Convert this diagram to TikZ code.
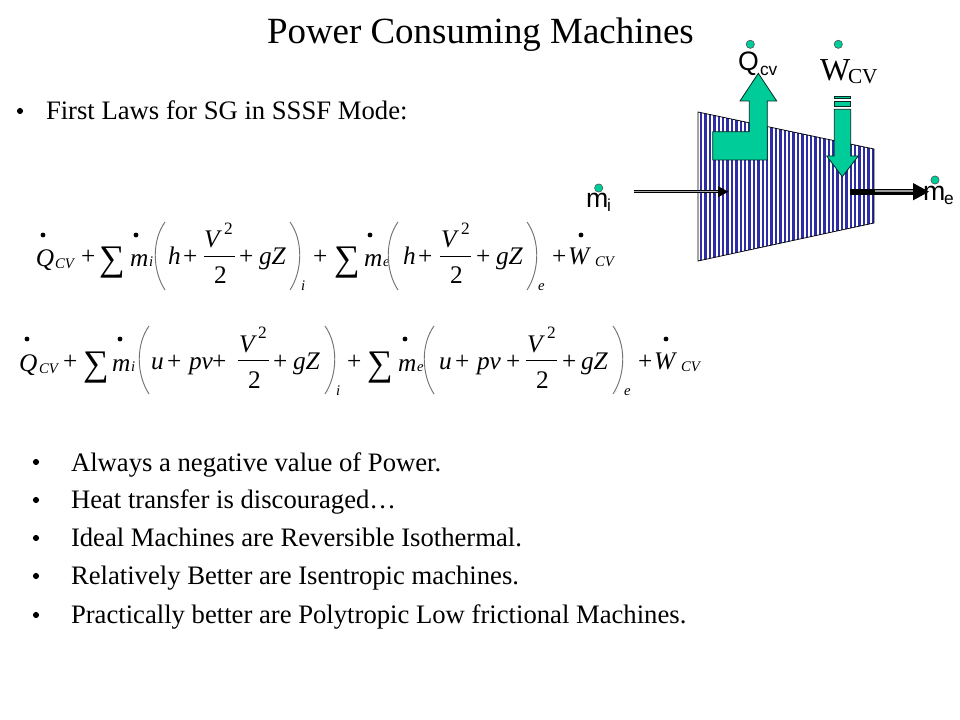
\documentclass[tikz,border=0pt]{standalone}
\usepackage{fontspec}
\setmainfont{Liberation Serif}
\newfontfamily\sansf{Liberation Sans}
\usetikzlibrary{arrows.meta}
\definecolor{teal1}{RGB}{0,204,153}
\definecolor{stripe}{RGB}{45,45,165}
\tikzset{
 txt/.style={anchor=base west,inner sep=0pt,outer sep=0pt,text=black},
 titletxt/.style={txt,font=\fontsize{27.7}{32}\selectfont},
 body/.style={txt,font=\fontsize{20}{24}\selectfont},
 mathbig/.style={txt,font=\fontsize{19}{22}\selectfont\itshape},
 mathrm/.style={txt,font=\fontsize{19}{22}\selectfont},
 mathsub/.style={txt,font=\fontsize{11}{12}\selectfont\itshape},
 sumsym/.style={txt,font=\fontsize{27}{28}\selectfont},
 blackdot/.style={circle,fill=black,inner sep=0pt,minimum size=3.6pt},
 greendot/.style={circle,fill=teal1,draw=black!70,line width=.4pt,inner sep=0pt,minimum size=6.2pt},
 paren/.style={draw=black!55,line width=.7pt},
 fracbar/.style={draw=black,line width=.7pt},
 tealshape/.style={fill=teal1,draw=black!80!teal1,line width=.6pt},
 sanslab/.style={txt,font=\fontsize{20}{22}\selectfont\sansf},
 sanssub/.style={txt,font=\fontsize{13}{15}\selectfont\sansf},
}
\newcommand{\bulletmark}[2]{\node[blackdot,minimum size=4.6pt] (#1) at #2 {};}
\begin{document}
\begin{tikzpicture}[x=0.75pt,y=-0.75pt]
\useasboundingbox (0,0) rectangle (960,720);
\fill[white] (0,0) rectangle (960,720);

\node[titletxt] (title) at (267,43.5) {Power Consuming Machines};
\bulletmark{b0}{(20,111)}
\node[body] (first) at (46,120) {First Laws for SG in SSSF Mode:};

% machine body
\begin{scope}
\clip (698,112) -- (874,149) -- (874,223) -- (698,261) -- cycle;
\foreach \x in {0,...,40} {
  \fill[stripe] ({700+\x*4.4},100) rectangle ({700+\x*4.4+2.4},270);
}
\end{scope}
\draw[black,line width=.55pt] (698,112) -- (874,149) -- (874,223) -- (698,261) -- cycle;

% heat arrow
\path[tealshape] (712.7,131.7) -- (749.3,131.7) -- (749.3,101) -- (740,101) -- (758.3,73.3) -- (776.7,101) -- (767.3,101) -- (767.3,160) -- (712.7,160) -- cycle;
% work arrow
\path[tealshape] (834.3,96) rectangle (850.7,98.3);
\path[tealshape] (834.3,101) rectangle (850.7,106.7);
\path[tealshape] (834.3,109.3) -- (850.7,109.3) -- (850.7,156) -- (858.3,156) -- (842.3,176.7) -- (826.7,156) -- (834.3,156) -- cycle;

% flow arrows
\coordinate (inA) at (634,191.7);
\coordinate (inB) at (720,191.7);
\coordinate (inT) at (728.5,191.7);
\coordinate (outA) at (850,191.7);
\coordinate (outB) at (915,191.7);
\coordinate (outC) at (875,191.7);
\coordinate (outT) at (929,191.7);
\draw[draw=black,line width=2.4pt] (inA) -- (inB);
\draw[draw=black!35,line width=.9pt] (inA) -- (inB);
\fill[black] (inT) -- ++(-10.5,-5.5) -- ++(0,11) -- cycle;
\draw[draw=black,line width=4.6pt] (outA) -- (outB);
\draw[draw=black!40,line width=1.6pt] ([yshift=.8pt]outC) -- ([yshift=.8pt]outB);
\fill[black] (outT) -- ++(-16,-8.7) -- ++(0,17.4) -- cycle;

% diagram labels
\node[sanslab] (qlab) at (738,71) {Q};
\node[sanssub] (qsub) at (760,76) {cv};
\node[txt,font=\fontsize{24}{26}\selectfont] (wlab) at (820,81) {W};
\node[txt,font=\fontsize{16}{18}\selectfont] (wsub) at (848,84) {CV};
\node[sanslab] (mil) at (586,208) {m};
\node[sanssub] (mis) at (607,212) {i};
\node[sanslab] (mel) at (923,201) {m};
\node[sanssub] (mes) at (944,205) {e};
\node[greendot] (dq) at (750.3,44.3) {};
\node[greendot] (dw) at (838.3,44.3) {};
\node[greendot] (dmi) at (598.7,188) {};
\node[greendot] (dme) at (935,180) {};

% equation 1
\node[mathbig] (a1) at (36,267) {Q};
\node[blackdot] (a1d) at (43,235) {};
\node[mathsub] (a2) at (55,269) {CV};
\node[mathrm] (a3) at (81,265) {+};
\node[sumsym] (a4) at (99,271) {∑};
\node[mathbig] (a5) at (130,267) {m};
\node[blackdot] (a5d) at (136,235) {};
\node[mathsub] (a6) at (149,267) {i};
\draw[paren] (165,222) .. controls (152,240) and (152,270) .. (165,290);
\node[mathbig] (a7) at (168,265) {h};
\node[mathrm] (a8) at (183,265) {+};
\draw[fracbar] (204,256) -- (235,256);
\node[mathbig] (a9) at (204,248) {V};
\node[txt,font=\fontsize{13}{14}\selectfont] (a10) at (224,235) {2};
\node[mathrm] (a11) at (214,284) {2};
\node[mathrm] (a12) at (239,265) {+};
\node[mathbig] (a13) at (259,265) {gZ};
\draw[paren] (290,222) .. controls (303,240) and (303,270) .. (290,290);
\node[mathsub] (a14) at (301,291) {i};
\node[mathrm] (a15) at (313,265) {+};
\node[sumsym] (a16) at (334,271) {∑};
\node[mathbig] (a17) at (364,267) {m};
\node[blackdot] (a17d) at (370,235) {};
\node[mathsub] (a18) at (383,267) {e};
\draw[paren] (398,222) .. controls (385,240) and (385,270) .. (398,290);
\node[mathbig] (a19) at (403,265) {h};
\node[mathrm] (a20) at (418,265) {+};
\draw[fracbar] (440,256) -- (471,256);
\node[mathbig] (a21) at (441,248) {V};
\node[txt,font=\fontsize{13}{14}\selectfont] (a22) at (461,235) {2};
\node[mathrm] (a23) at (450,284) {2};
\node[mathrm] (a24) at (476,265) {+};
\node[mathbig] (a25) at (496,265) {gZ};
\draw[paren] (527,222) .. controls (540,240) and (540,270) .. (527,290);
\node[mathsub] (a26) at (538,291) {e};
\node[mathrm] (a27) at (552,265) {+};
\node[mathbig] (a28) at (568,265) {W};
\node[blackdot] (a28d) at (581,235) {};
\node[mathsub] (a29) at (595,267) {CV};

% equation 2
\node[mathbig] (c1) at (19,371) {Q};
\node[blackdot] (c1d) at (27,339) {};
\node[mathsub] (c2) at (39,373) {CV};
\node[mathrm] (c3) at (63,369) {+};
\node[sumsym] (c4) at (83,375) {∑};
\node[mathbig] (c5) at (112,371) {m};
\node[blackdot] (c5d) at (120,339) {};
\node[mathsub] (c6) at (131,371) {i};
\draw[paren] (149,326) .. controls (136,344) and (136,374) .. (149,394);
\node[mathbig] (c7) at (151,369) {u};
\node[mathrm] (c8) at (167,369) {+};
\node[mathbig] (c9) at (189,369) {pv};
\node[mathrm] (c10) at (212,369) {+};
\draw[fracbar] (238,360) -- (269,360);
\node[mathbig] (c11) at (239,352) {V};
\node[txt,font=\fontsize{13}{14}\selectfont] (c12) at (258,339) {2};
\node[mathrm] (c13) at (248,388) {2};
\node[mathrm] (c14) at (273,369) {+};
\node[mathbig] (c15) at (293,369) {gZ};
\draw[paren] (325,326) .. controls (338,344) and (338,374) .. (325,394);
\node[mathsub] (c16) at (336,395) {i};
\node[mathrm] (c17) at (347,369) {+};
\node[sumsym] (c18) at (367,375) {∑};
\node[mathbig] (c19) at (398,371) {m};
\node[blackdot] (c19d) at (405,339) {};
\node[mathsub] (c20) at (417,371) {e};
\draw[paren] (434,326) .. controls (421,344) and (421,374) .. (434,394);
\node[mathbig] (c21) at (439,369) {u};
\node[mathrm] (c22) at (455,369) {+};
\node[mathbig] (c23) at (477,369) {pv};
\node[mathrm] (c24) at (506,369) {+};
\draw[fracbar] (526,360) -- (557,360);
\node[mathbig] (c25) at (527,352) {V};
\node[txt,font=\fontsize{13}{14}\selectfont] (c26) at (547,339) {2};
\node[mathrm] (c27) at (536,388) {2};
\node[mathrm] (c28) at (562,369) {+};
\node[mathbig] (c29) at (581,369) {gZ};
\draw[paren] (613,326) .. controls (626,344) and (626,374) .. (613,394);
\node[mathsub] (c30) at (624,395) {e};
\node[mathrm] (c31) at (638,369) {+};
\node[mathbig] (c32) at (654,369) {W};
\node[blackdot] (c32d) at (666,339) {};
\node[mathsub] (c33) at (681,371) {CV};

% list
\bulletmark{b1}{(36,462)}
\node[body] (l1) at (71,471) {Always a negative value of Power.};
\bulletmark{b2}{(36,500)}
\node[body] (l2) at (71,508) {Heat transfer is discouraged…};
\bulletmark{b3}{(36,538)}
\node[body] (l3) at (71,546) {Ideal Machines are Reversible Isothermal.};
\bulletmark{b4}{(36,576)}
\node[body] (l4) at (71,584) {Relatively Better are Isentropic machines.};
\bulletmark{b5}{(36,615)}
\node[body] (l5) at (71,623) {Practically better are Polytropic Low frictional Machines.};
\end{tikzpicture}
\end{document}
